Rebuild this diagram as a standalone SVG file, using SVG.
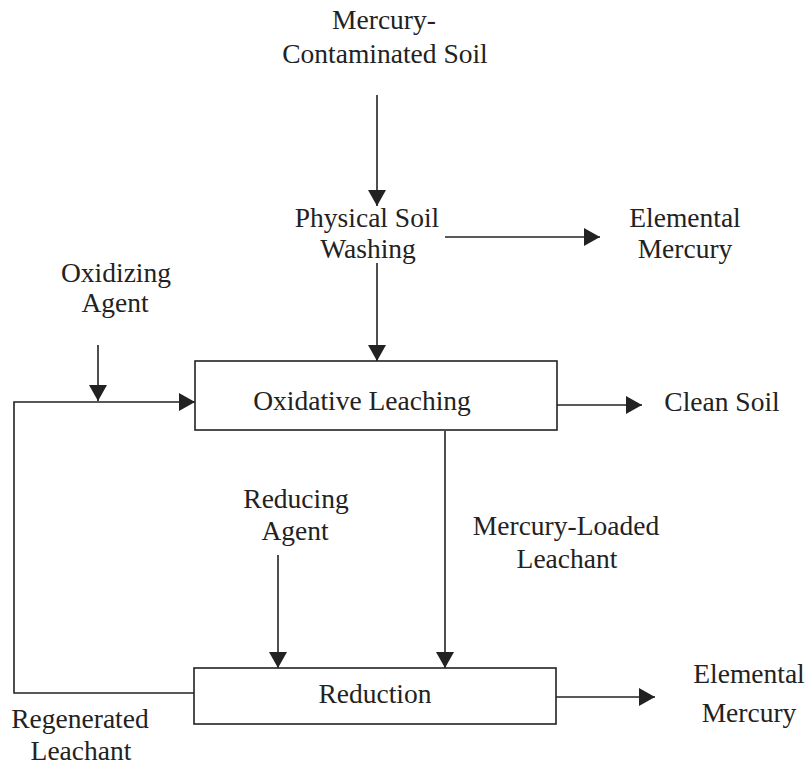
<svg xmlns="http://www.w3.org/2000/svg" width="809" height="765" viewBox="0 0 809 765">
<style>
text{font-family:"Liberation Serif","Times New Roman",serif;font-size:27.5px;fill:#222;text-anchor:middle}
.box{fill:#fff;stroke:#222;stroke-width:1.6}
.conn path{fill:none;stroke:#222;stroke-width:1.6}
</style>
<defs>
<marker id="arr" markerUnits="userSpaceOnUse" markerWidth="16" markerHeight="18" viewBox="0 0 16 18" refX="16" refY="9" orient="auto">
<path d="M0,0 L16,9 L0,18 z" fill="#222"/>
</marker>
</defs>
<rect width="809" height="765" fill="#fff"/>
<g id="connectors" class="conn">
<path d="M377,95 V206" marker-end="url(#arr)"/>
<path d="M445,237 H600" marker-end="url(#arr)"/>
<path d="M377,263 V361" marker-end="url(#arr)"/>
<path d="M98,345 V401" marker-end="url(#arr)"/>
<path d="M194,693 H14 V402 H195" marker-end="url(#arr)"/>
<path d="M557,405 H642" marker-end="url(#arr)"/>
<path d="M445,431 V668" marker-end="url(#arr)"/>
<path d="M278,555 V668" marker-end="url(#arr)"/>
<path d="M556,697 H655" marker-end="url(#arr)"/>
</g>
<g id="soil-input">
<text x="384" y="29">Mercury-</text>
<text x="385" y="63">Contaminated Soil</text>
</g>
<g id="physical-soil-washing">
<text x="367" y="227">Physical Soil</text>
<text x="368" y="258">Washing</text>
</g>
<g id="elemental-mercury-1">
<text x="685" y="227">Elemental</text>
<text x="685" y="258">Mercury</text>
</g>
<g id="oxidizing-agent">
<text x="116" y="282">Oxidizing</text>
<text x="115" y="312">Agent</text>
</g>
<g id="oxidative-leaching">
<rect class="box" x="195" y="361" width="362" height="69"/>
<text x="362" y="410">Oxidative Leaching</text>
</g>
<g id="clean-soil">
<text x="722" y="411">Clean Soil</text>
</g>
<g id="reducing-agent">
<text x="296" y="508">Reducing</text>
<text x="295" y="540">Agent</text>
</g>
<g id="mercury-loaded-leachant">
<text x="566" y="535">Mercury-Loaded</text>
<text x="567" y="568">Leachant</text>
</g>
<g id="reduction">
<rect class="box" x="194" y="668" width="362" height="56"/>
<text x="375" y="703">Reduction</text>
</g>
<g id="elemental-mercury-2">
<text x="749" y="683">Elemental</text>
<text x="749" y="722">Mercury</text>
</g>
<g id="regenerated-leachant">
<text x="80" y="728">Regenerated</text>
<text x="81" y="760">Leachant</text>
</g>
</svg>
